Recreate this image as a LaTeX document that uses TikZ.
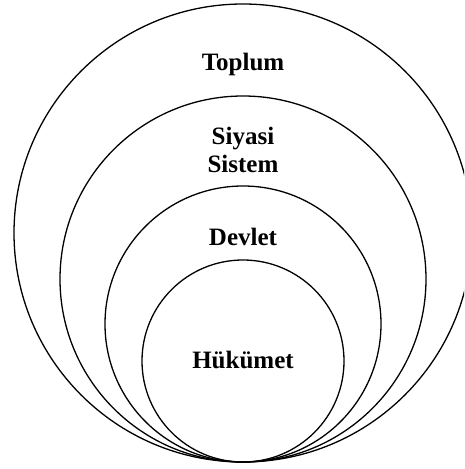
\documentclass[tikz,border=0pt]{standalone}
\usepackage{fontspec}
\setmainfont{Liberation Serif}
\begin{document}
\begin{tikzpicture}[x=1pt,y=1pt,
  ring/.style={draw=black, line width=1.3pt, circle, inner sep=0pt, outer sep=0pt},
  lbl/.style={font=\fontsize{25}{28}\selectfont\bfseries, anchor=base, inner sep=0pt}]
\useasboundingbox (0,0) rectangle (464,469);
\clip (0,0) rectangle (464,469);
\node[ring, minimum size=458pt] (toplum) at (243,236) {};
\node[ring, minimum size=366pt] (siyasi) at (243,190) {};
\node[ring, minimum size=276pt] (devlet) at (243,145) {};
\node[ring, minimum size=202pt] (hukumet) at (243,108) {};
\node[lbl] (t1) at (243,398) {Toplum};
\node[lbl] (t2) at (243,324) {Siyasi};
\node[lbl] (t3) at (243,296) {Sistem};
\node[lbl] (t4) at (243,223) {Devlet};
\node[lbl] (t5) at (243,100) {Hükümet};
\end{tikzpicture}
\end{document}
